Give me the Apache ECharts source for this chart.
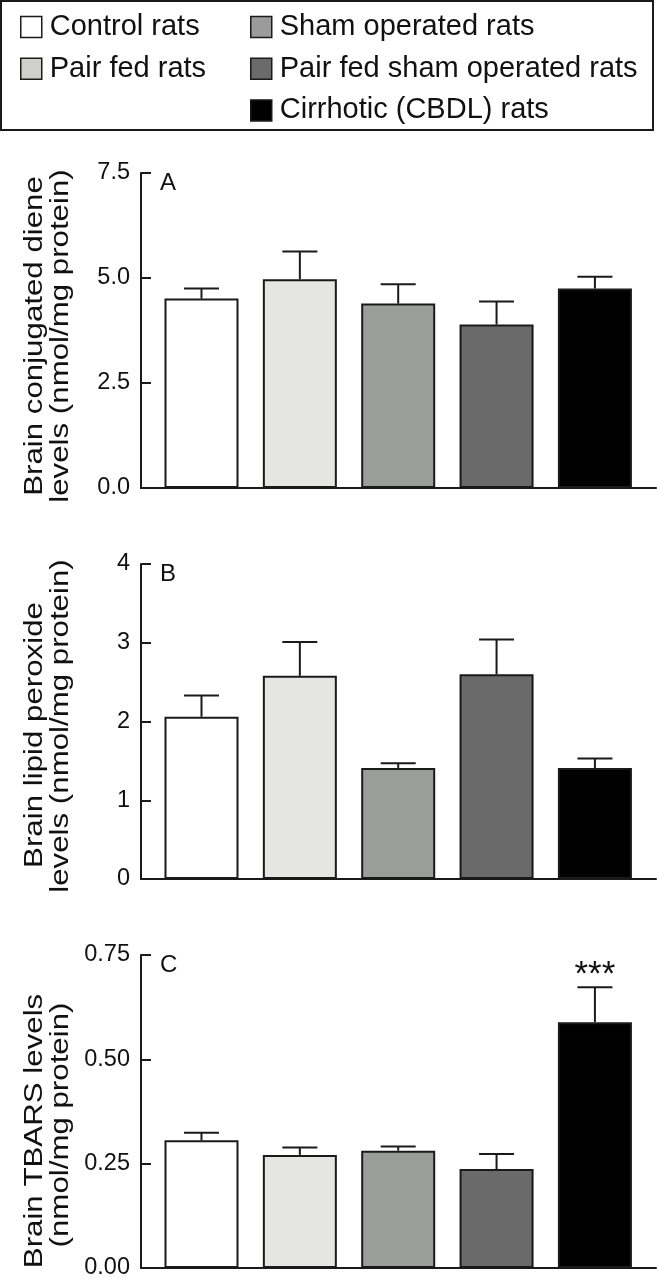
<!DOCTYPE html>
<html><head><meta charset="utf-8">
<script src="https://cdn.jsdelivr.net/npm/echarts@6/dist/echarts.min.js"></script>
<style>html,body{margin:0;padding:0;background:#fff}#c{width:657px;height:1280px}</style>
</head><body><div id="c"></div>
<script>
// ---- data ----
const groups = ['Control rats', 'Pair fed rats', 'Sham operated rats', 'Pair fed sham operated rats', 'Cirrhotic (CBDL) rats'];
const dieneMean = [4.51, 4.97, 4.39, 3.89, 4.75];
const dieneSem  = [0.24, 0.66, 0.46, 0.55, 0.28];
const peroxMean = [2.06, 2.58, 1.41, 2.60, 1.41];
const peroxSem  = [0.27, 0.43, 0.06, 0.44, 0.12];
const tbarsMean = [0.306, 0.271, 0.281, 0.237, 0.589];
const tbarsSem  = [0.018, 0.018, 0.010, 0.036, 0.084];
const tbarsSig  = ['', '', '', '', '***'];
const panelLetters = ['A', 'B', 'C'];
const yTitles = [
  ['Brain conjugated diene', 'levels (nmol/mg protein)'],
  ['Brain lipid peroxide', 'levels (nmol/mg protein)'],
  ['Brain TBARS levels', '(nmol/mg protein)']
];
const yMax = [7.5, 4, 0.75];
const yInterval = [2.5, 1, 0.25];
const yDecimals = [1, 0, 2];

// ---- styles ----
const FONT = '"Liberation Sans", Arial, Helvetica, sans-serif';
const barColors = ['#ffffff', '#e5e6e4', '#9b9d9a', '#6a6a6a', '#000000'];
const legendColors = ['#ffffff', '#cfd0ce', '#9b9b9b', '#6b6b6b', '#000000'];
const INK = '#1a1a1a';
const gridTops = [173, 564, 955];
const gridH = 315;
const titleY = [[336, 336], [735, 726], [1131, 1125]];

const panels = [
  {mean: dieneMean, sem: dieneSem, sig: null},
  {mean: peroxMean, sem: peroxSem, sig: null},
  {mean: tbarsMean, sem: tbarsSem, sig: tbarsSig}
];

const grid = [], xAxis = [], yAxis = [], series = [], graphic = [];

panels.forEach((p, k) => {
  grid.push({left: 141, right: 1, top: gridTops[k], height: gridH});
  xAxis.push({
    type: 'value', gridIndex: k, min: -0.615, max: 4.621,
    axisLine: {show: true, onZero: false, lineStyle: {color: INK, width: 2}},
    axisTick: {show: false}, axisLabel: {show: false}, splitLine: {show: false}
  });
  yAxis.push({
    type: 'value', gridIndex: k, min: 0, max: yMax[k], interval: yInterval[k],
    axisLine: {show: true, onZero: false, lineStyle: {color: INK, width: 2}},
    axisTick: {show: true, inside: true, length: 10, lineStyle: {color: INK, width: 2}},
    axisLabel: {margin: 11, fontSize: 23.5, color: '#111', fontFamily: FONT,
      formatter: v => v.toFixed(yDecimals[k])},
    splitLine: {show: false}
  });
  groups.forEach((g, i) => {
    series.push({
      type: 'bar', name: g, xAxisIndex: k, yAxisIndex: k,
      barWidth: 74, barGap: '-100%',
      data: [[i, p.mean[i]]],
      itemStyle: {color: barColors[i], borderColor: INK, borderWidth: 2},
      emphasis: {disabled: true}, z: 2
    });
  });
  series.push({
    type: 'custom', name: 'err' + k, xAxisIndex: k, yAxisIndex: k, z: 3, clip: false,
    data: p.mean.map((m, i) => [i, m, p.sem[i]]),
    encode: {x: 0, y: 1},
    renderItem: (params, api) => {
      const x = api.value(0), m = api.value(1), e = api.value(2);
      const p0 = api.coord([x, m]);
      const p1 = api.coord([x, m + e]);
      const st = {stroke: INK, lineWidth: 2};
      const children = [
        {type: 'line', shape: {x1: p0[0], y1: p0[1], x2: p1[0], y2: p1[1]}, style: st},
        {type: 'line', shape: {x1: p1[0] - 17.5, y1: p1[1], x2: p1[0] + 17.5, y2: p1[1]}, style: st}
      ];
      if (p.sig && p.sig[params.dataIndex]) {
        children.push({type: 'text', x: p1[0], y: p1[1] + 6,
          style: {text: p.sig[params.dataIndex], fontSize: 35, fontFamily: FONT, fill: '#111',
            align: 'center', verticalAlign: 'bottom'}});
      }
      return {type: 'group', children};
    }
  });
  graphic.push({type: 'text', x: 160, y: gridTops[k] + 10,
    style: {text: panelLetters[k], fontSize: 24, fontFamily: FONT, fill: '#111', align: 'left', verticalAlign: 'middle'}});
  const tx = [35, 61];
  yTitles[k].forEach((t, j) => {
    graphic.push({type: 'text', x: tx[j], y: titleY[k][j], rotation: Math.PI / 2, scaleX: 1.25,
      style: {text: t, fontSize: 25, fontFamily: FONT, fill: '#111', align: 'center', verticalAlign: 'middle'}});
  });
});

graphic.push({type: 'rect', shape: {x: 1, y: 1, width: 652, height: 129},
  style: {fill: 'none', stroke: INK, lineWidth: 2}, z: 10});

const legendBase = {
  orient: 'vertical', padding: 0, itemWidth: 21, itemHeight: 21, itemGap: 12.7,
  icon: 'rect', selectedMode: false,
  itemStyle: {borderColor: INK, borderWidth: 1.5},
  textStyle: {fontSize: 29, color: '#111', fontFamily: FONT, padding: [0, 0, 0, 3]}
};
const legendItem = i => ({name: groups[i], itemStyle: {color: legendColors[i], borderColor: INK, borderWidth: 1.5}});

const option = {
  animation: false,
  backgroundColor: '#fff',
  grid, xAxis, yAxis, series, graphic,
  legend: [
    Object.assign({}, legendBase, {left: 20, top: 12.5, data: [0, 1].map(legendItem)}),
    Object.assign({}, legendBase, {left: 250, top: 12.5, data: [2, 3, 4].map(legendItem)})
  ]
};
const chart = echarts.init(document.getElementById('c'), null, {renderer: 'canvas'});
chart.setOption(option);
</script>
</body></html>
